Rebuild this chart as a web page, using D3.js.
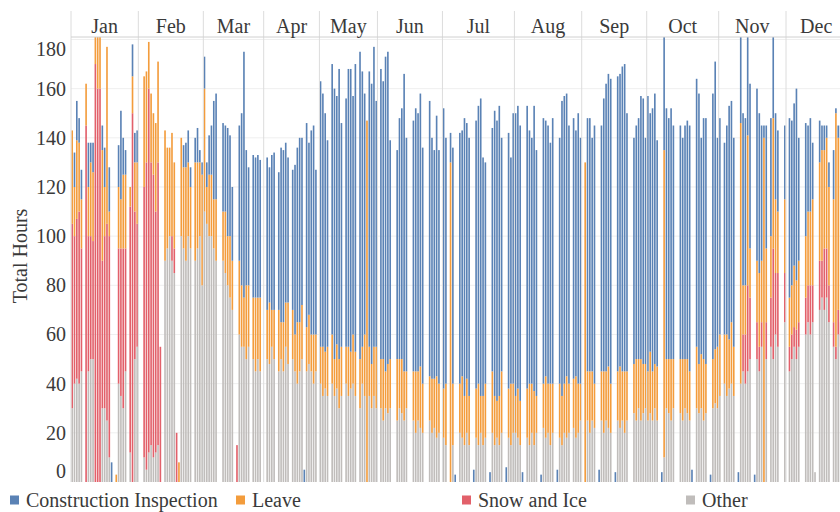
<!DOCTYPE html>
<html><head><meta charset="utf-8">
<script src="https://cdn.jsdelivr.net/npm/d3@7"></script>
<style>body{margin:0;background:#fff}svg{display:block}</style>
</head><body>
<svg id="chart" width="840" height="512"></svg>
<script>
const months = ["Jan","Feb","Mar","Apr","May","Jun","Jul","Aug","Sep","Oct","Nov","Dec"];
const seriesNames = ["Other","Snow and Ice","Leave","Construction Inspection"];
const legendOrder = ["Construction Inspection","Leave","Snow and Ice","Other"];
const yTicks = [0,20,40,60,80,100,120,140,160,180];

// Daily hours per month (one entry per day shown in the month pane)
const other = [
  [30,40,42,40,45,0,0,45,50,50,0,0,0,30,30,25,10,0,0,0,40,35,30,45,0,12,0,50,55],
  [0,0,10,5,12,15,10,12,15,0,0,90,95,100,90,85,0,0,100,95,90,100,95,0,90,95,100,80],
  [110,105,100,100,95,90,0,0,90,85,80,75,70,0,0,60,55,55,50,55,0,50,45,50,45,0],
  [0,50,48,55,50,0,45,50,45,55,48,0,50,45,40,45,50,0,45,48,45,40,45,0],
  [40,35,38,35,0,40,35,38,30,35,0,40,35,38,40,35,0,30,40,35,0,35,30,35,30],
  [0,30,25,30,28,30,0,0,25,30,28,25,30,0,0,25,20,25,22,20,0,0,25,20,22,18,20,0],
  [18,15,0,0,15,0,0,20,18,15,20,15,0,0,18,15,20,15,18,0,0,20,15,18,15,20,0,0,18,15,20],
  [20,18,15,0,0,18,15,20,15,20,0,0,22,18,20,15,20,0,0,18,15,20,18,20,0,22,18,20,25],
  [0,0,25,20,25,22,0,0,25,20,25,22,20,0,0,25,22,25,20,25,0,0,28,25,30,25,28,30],
  [25,28,25,30,25,0,0,10,30,28,25,30,0,0,28,25,30,28,25,0,0,30,28,30,25,28,0,0,30,32,30],
  [35,0,40,35,38,40,35,0,0,40,45,40,45,50,0,0,50,45,55,0,50,0,55,50,60,55,0,0,65],
  [0,45,50,55,50,55,0,0,60,65,60,65,4,0,70,75,70,75,65,0,55,50,60,55,50,40]
];
const snow = [
  [75,60,65,70,50,0,145,55,50,48,170,160,160,60,70,80,90,0,0,0,55,60,65,50,0,100,150,60,50],
  [0,0,110,125,148,115,115,98,115,55,0,0,0,0,10,10,20,0,0,0,0,0,0,0,0,0,0,0],
  [0,0,0,0,0,0,0,0,0,0,0,0,0,0,15,0,0,0,0,0,0,0,0,0,0,0],
  [0,0,0,0,0,0,0,0,0,0,0,0,0,0,0,0,0,0,0,0,0,0,0,0],
  [0,0,0,0,0,0,0,0,0,0,0,0,0,0,0,0,0,0,0,0,0,0,0,0,0],
  [0,0,0,0,0,0,0,0,0,0,0,0,0,0,0,0,0,0,0,0,0,0,0,0,0,0,0,0],
  [0,0,0,0,0,0,0,0,0,0,0,0,0,0,0,0,0,0,0,0,0,0,0,0,0,0,0,0,0,0,0],
  [0,0,0,0,0,0,0,0,0,0,0,0,0,0,0,0,0,0,0,0,0,0,0,0,0,0,0,0,0],
  [0,0,0,0,0,0,0,0,0,0,0,0,0,0,0,0,0,0,0,0,0,0,0,0,0,0,0,0],
  [0,0,0,0,0,0,0,0,0,0,0,0,0,0,0,0,0,0,0,0,0,0,0,0,0,0,0,0,0,0,0],
  [0,0,0,0,0,0,0,0,0,0,15,20,35,25,0,0,15,10,10,0,15,0,20,45,25,30,0,0,20],
  [0,10,10,8,12,10,0,0,15,15,20,15,0,0,20,15,25,20,15,0,10,5,10,10,5,0]
];
const leave = [
  [38,20,32,28,20,0,17,20,30,28,20,25,30,45,20,72,10,0,0,3,25,20,30,30,0,8,15,20,25],
  [0,0,45,37,19,28,25,36,41,0,0,53,41,36,42,35,0,8,40,33,38,30,25,0,40,35,30,45],
  [50,15,25,25,20,25,0,0,20,25,20,25,20,0,0,30,25,20,30,25,0,25,30,25,30,0],
  [0,20,25,15,20,0,25,15,20,18,25,0,20,15,25,20,22,0,18,20,15,20,15,0],
  [15,20,15,20,0,20,15,18,20,20,0,15,20,15,20,18,0,20,15,25,147,20,18,20,25],
  [0,20,25,15,20,20,0,0,25,20,22,20,15,0,0,20,25,20,25,20,0,0,18,22,20,25,20,0],
  [20,25,0,130,25,0,0,20,25,20,22,20,0,0,20,25,15,20,22,0,0,25,20,15,20,25,0,0,20,25,20],
  [15,20,18,0,0,20,25,20,22,15,0,0,18,25,20,25,20,0,0,22,20,20,25,20,0,20,25,20,15],
  [0,130,20,25,20,18,0,0,20,25,20,25,20,0,0,20,25,20,25,20,0,0,20,25,20,25,20,18],
  [20,25,20,18,22,0,0,125,20,22,25,20,0,0,22,25,20,22,20,0,0,25,20,22,25,20,0,0,20,22,25],
  [25,0,20,25,20,25,20,0,0,106,20,20,61,20,0,0,25,30,25,140,30,0,25,53,30,25,0,0,30],
  [0,20,20,25,20,25,0,0,25,30,30,35,0,0,40,45,40,45,40,0,50,95,70,75,85,95]
];
const constr = [
  [0,14,16,10,12,0,0,18,8,12,0,0,0,10,16,0,18,8,0,0,17,36,15,10,0,0,13,12,13],
  [0,0,0,0,0,0,0,0,0,0,0,0,0,0,0,0,0,0,0,9,10,13,8,0,10,14,5,5],
  [13,10,16,20,40,43,0,0,36,35,44,41,30,0,0,55,70,100,55,48,0,58,57,58,56,0],
  [0,62,55,63,64,0,56,71,70,65,59,0,57,69,71,75,68,5,83,70,83,85,67,0],
  [108,103,97,84,0,110,110,101,118,91,0,101,113,115,97,117,0,125,112,98,0,112,114,122,100],
  [0,118,113,128,127,89,0,0,85,98,102,121,95,0,0,102,107,105,111,96,0,0,112,98,93,106,95,0],
  [114,100,0,12,96,3,0,102,100,113,104,105,0,5,109,113,121,97,90,0,4,99,116,114,118,95,0,6,104,92,110],
  [115,115,112,4,0,115,103,100,116,100,0,3,108,104,105,98,108,0,5,100,120,117,115,105,0,106,100,110,100],
  [0,0,103,103,95,105,0,5,100,111,117,119,124,0,4,120,119,124,125,105,0,0,92,95,98,107,108,92],
  [112,97,107,110,92,0,4,50,102,98,102,95,0,0,95,90,95,97,100,5,0,109,110,88,98,100,0,3,108,117,85],
  [88,0,78,85,95,90,85,0,4,39,70,68,44,67,0,3,70,65,55,5,50,0,48,37,35,33,0,0,30],
  [0,73,67,66,78,50,0,0,46,35,38,23,0,0,17,10,10,5,10,0,20,2,5,5,0,0]
];

const colors = {
  "Construction Inspection": "#5a82b5",
  "Leave": "#f39c3c",
  "Snow and Ice": "#e2606a",
  "Other": "#c0bdbb"
};

const days = [];
months.forEach((m, mi) => {
  other[mi].forEach((v, di) => {
    days.push({
      key: m + "-" + di, month: m,
      "Other": v,
      "Snow and Ice": snow[mi][di] || 0,
      "Leave": leave[mi][di] || 0,
      "Construction Inspection": constr[mi][di] || 0
    });
  });
});

const W = 840, H = 512;
const plotLeft = 71, plotTop = 37, headerTop = 11, baseY = 482;
const nThroughNov = days.filter(d => d.month !== "Dec").length;
const pitch = (786 - plotLeft) / nThroughNov;
const pad = 0.3;

const x = d3.scaleBand()
  .domain(days.map(d => d.key))
  .range([plotLeft, plotLeft + days.length * pitch])
  .paddingInner(pad).paddingOuter(pad / 2);
const y = d3.scaleLinear().domain([0, 181]).range([baseY, plotTop]);

const svg = d3.select("#chart");
const font = "'Liberation Serif','Times New Roman',serif";
const textCol = "#3a3a3a";

svg.append("defs").append("clipPath").attr("id", "plotclip")
  .append("rect").attr("x", plotLeft).attr("y", plotTop).attr("width", W - plotLeft).attr("height", baseY - plotTop);

// horizontal gridlines
svg.append("g").selectAll("line").data(yTicks.slice(1)).join("line")
  .attr("x1", plotLeft).attr("x2", W)
  .attr("y1", d => y(d)).attr("y2", d => y(d))
  .attr("stroke", "#efefef").attr("stroke-width", 1);

// stacked bars
const stacked = d3.stack().keys(seriesNames)(days);
const gBars = svg.append("g").attr("clip-path", "url(#plotclip)");
stacked.forEach(layer => {
  gBars.append("g").attr("fill", colors[layer.key])
    .selectAll("rect").data(layer.filter(s => s[1] > s[0])).join("rect")
    .attr("x", s => x(s.data.key))
    .attr("width", x.bandwidth())
    .attr("y", s => y(s[1]))
    .attr("height", s => y(s[0]) - y(s[1]));
});

// month panes
const step = x.step();
const monthBounds = months.map(m => {
  const ds = days.filter(d => d.month === m);
  const x0 = x(ds[0].key) - step * pad / 2;
  const x1 = x(ds[ds.length - 1].key) + x.bandwidth() + step * pad / 2;
  return {m, x0, x1};
});
const gFrame = svg.append("g");
gFrame.selectAll("line.div").data(monthBounds).join("line")
  .attr("x1", d => d.x0).attr("x2", d => d.x0)
  .attr("y1", headerTop).attr("y2", baseY)
  .attr("stroke", "#dcdcdc").attr("stroke-width", 1);
gFrame.append("line").attr("x1", plotLeft).attr("x2", W).attr("y1", plotTop).attr("y2", plotTop)
  .attr("stroke", "#d0d0d0");
gFrame.selectAll("text.month").data(monthBounds).join("text")
  .attr("x", d => (d.x0 + d.x1) / 2).attr("y", 26)
  .attr("text-anchor", "middle").attr("dominant-baseline", "central")
  .attr("font-family", font).attr("font-size", 20).attr("fill", textCol)
  .text(d => d.m);

// y axis labels
svg.append("g").selectAll("text").data(yTicks).join("text")
  .attr("x", 66)
  .attr("y", d => Math.min(471, Math.max(49, y(d))))
  .attr("text-anchor", "end").attr("dominant-baseline", "central")
  .attr("font-family", font).attr("font-size", 20).attr("fill", textCol)
  .text(d => d);

svg.append("text")
  .attr("transform", "translate(20,256) rotate(-90)")
  .attr("text-anchor", "middle").attr("dominant-baseline", "central")
  .attr("font-family", font).attr("font-size", 20).attr("fill", textCol)
  .text("Total Hours");

// legend
const legX = [10, 236, 462, 686];
const leg = svg.append("g").selectAll("g").data(legendOrder).join("g")
  .attr("transform", (d, i) => `translate(${legX[i]},500)`);
leg.append("rect").attr("x", 0).attr("y", -4.5).attr("width", 9).attr("height", 9)
  .attr("fill", d => colors[d]);
leg.append("text").attr("x", 16).attr("y", 0).attr("dominant-baseline", "central")
  .attr("font-family", font).attr("font-size", 20).attr("fill", textCol)
  .text(d => d);
</script>
</body></html>
